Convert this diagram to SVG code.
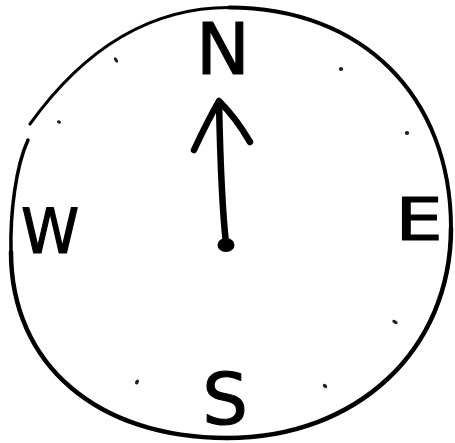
<svg xmlns="http://www.w3.org/2000/svg" width="455" height="443" viewBox="0 0 455 443">
  <style>
    .ring { fill: none; stroke: #000; stroke-linecap: round; stroke-linejoin: round; }
    .letter { font-family: "DejaVu Sans", "Liberation Sans", sans-serif; fill: #000; stroke: #000; stroke-width: 1.1; stroke-linejoin: round; text-anchor: middle; }
    .tick { fill: #222; }
    .needle { fill: none; stroke: #000; stroke-width: 6.5; stroke-linecap: round; stroke-linejoin: round; }
  </style>
  <rect width="455" height="443" fill="#fff"/>
  <g id="dial">
    <path class="ring" stroke-width="3" d="M 30,124 C 66,74 130,7.5 229,7.5"/>
    <path class="ring" stroke-width="4" d="M 229,7.5 C 362,7.5 451,96 451,228"/>
    <path class="ring" stroke-width="4.5" d="M 451,228 C 451,350 357,438 227,438"/>
    <path class="ring" stroke-width="4.5" d="M 227,438 C 97,438 11,364 11,252"/>
    <path class="ring" stroke-width="3.5" d="M 11,252 C 10,212 16,166 28,140"/>
  </g>
  <g id="ticks">
    <ellipse class="tick" cx="116" cy="60" rx="3" ry="1.6" transform="rotate(60 116 60)"/>
    <ellipse class="tick" cx="59" cy="122" rx="2.2" ry="1.6" transform="rotate(30 59 122)"/>
    <ellipse class="tick" cx="341" cy="69" rx="2.2" ry="2"/>
    <ellipse class="tick" cx="407" cy="133" rx="2.2" ry="2"/>
    <ellipse class="tick" cx="395" cy="322" rx="3" ry="1.6" transform="rotate(30 395 322)"/>
    <ellipse class="tick" cx="325" cy="386" rx="2.6" ry="1.8" transform="rotate(45 325 386)"/>
    <ellipse class="tick" cx="137" cy="382" rx="2.6" ry="1.8" transform="rotate(-60 137 382)"/>
  </g>
  <g id="label-N"><text class="letter" x="223" y="74" font-size="72">N</text></g>
  <g id="label-E"><text class="letter" transform="translate(419 240) scale(1.3 1)" x="0" y="0" font-size="58">E</text></g>
  <g id="label-S"><text class="letter" x="225" y="424" font-size="72">S</text></g>
  <g id="label-W"><text class="letter" transform="translate(50 253) scale(0.95 1)" x="0" y="0" font-size="62">W</text></g>
  <g id="needle">
    <path class="needle" d="M 219,102 C 220,150 221,200 226,243"/>
    <path class="needle" d="M 194,150 Q 207,122 219,101 Q 236,118 250,142"/>
    <ellipse cx="226" cy="245" rx="8.5" ry="7" fill="#000"/>
  </g>
</svg>
